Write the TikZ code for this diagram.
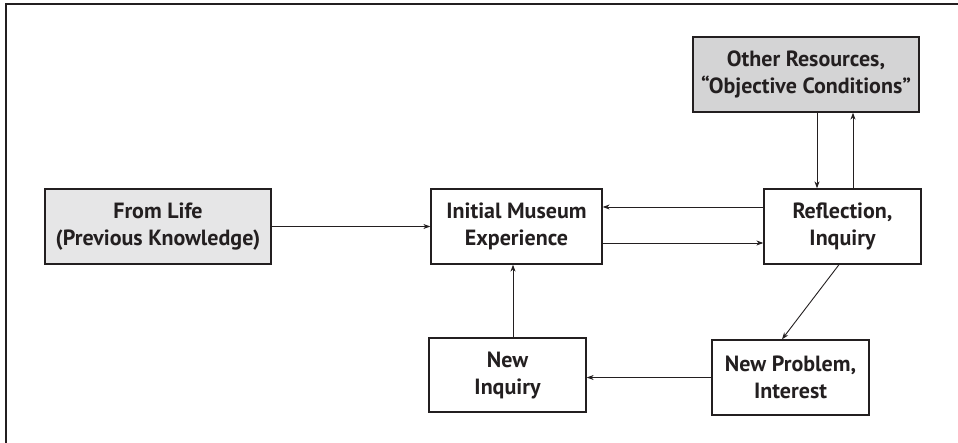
\documentclass[tikz,border=0pt]{standalone}
\usepackage{fontspec}
\setmainfont{PT Sans}
\usetikzlibrary{arrows.meta}
\definecolor{ink}{HTML}{231F20}
\definecolor{lightfill}{HTML}{E6E6E7}
\definecolor{darkfill}{HTML}{D4D4D5}
\tikzset{
  box/.style={draw=ink, line width=1.3pt, rectangle, align=center, inner sep=0pt,
    font=\fontsize{22}{27}\selectfont\bfseries, text=ink},
  arr/.style={draw=ink, line width=0.9pt, -{Stealth[length=7pt,width=5pt]}},
  frameline/.style={draw=ink, line width=1.4pt}
}
\begin{document}
\begin{tikzpicture}[x=1pt,y=-1pt]
\useasboundingbox (0,0) rectangle (958,443);
\draw[frameline] (6,443) -- (6,4) -- (958,4);
\node[box, fill=lightfill, minimum width=226pt, minimum height=75pt] (life) at (158,226.5) {From Life\\(Previous Knowledge)};
\node[box, minimum width=171pt, minimum height=75pt] (ime) at (516.5,226.5) {Initial Museum\\Experience};
\node[box, minimum width=157pt, minimum height=75pt] (refl) at (842.5,226.5) {Reflection,\\Inquiry};
\node[box, fill=darkfill, minimum width=226pt, minimum height=75pt] (other) at (806,74.5) {Other Resources,\\“Objective Conditions”};
\node[box, minimum width=157pt, minimum height=75pt] (npi) at (790.5,377.5) {New Problem,\\Interest};
\node[box, minimum width=157pt, minimum height=74pt] (ni) at (507.5,375) {New\\Inquiry};
\coordinate (ya) at (0,207);
\coordinate (yb) at (0,243);
\coordinate (xa) at (817,0);
\coordinate (xb) at (853,0);
\coordinate (xc) at (839,0);
\coordinate (xd) at (782,0);
\coordinate (xe) at (513,0);
\draw[arr] (life.east) -- (ime.west);
\draw[arr] (refl.west |- ya) -- (ime.east |- ya);
\draw[arr] (ime.east |- yb) -- (refl.west |- yb);
\draw[arr] (other.south -| xa) -- (refl.north -| xa);
\draw[arr] (refl.north -| xb) -- (other.south -| xb);
\draw[arr] (refl.south -| xc) -- (npi.north -| xd);
\draw[arr] (npi.west) -- (ni.east |- npi.west);
\draw[arr] (ni.north -| xe) -- (ime.south -| xe);
\end{tikzpicture}
\end{document}
